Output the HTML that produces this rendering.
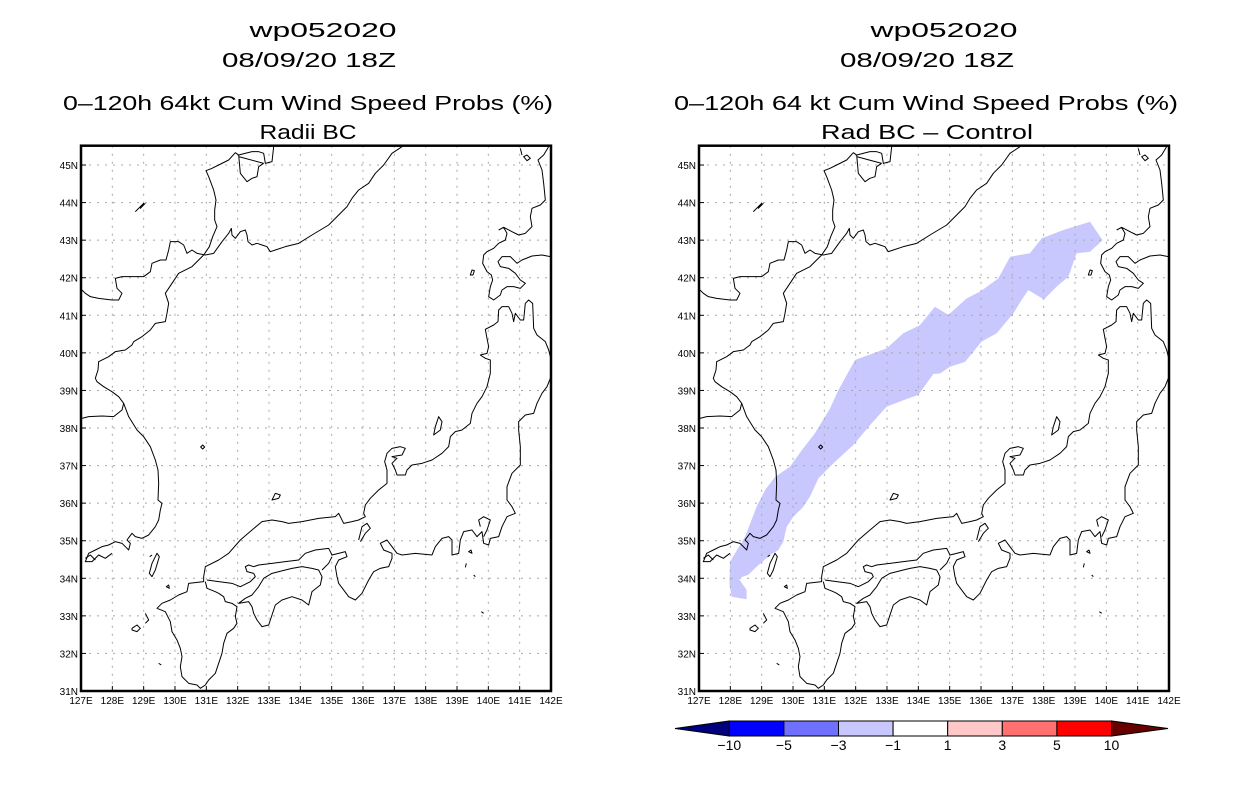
<!DOCTYPE html>
<html><head><meta charset="utf-8"><style>
html,body{margin:0;padding:0;background:#fff;}
svg{display:block;font-family:"Liberation Sans",sans-serif;}
</style></head><body>
<svg id="fig" width="1236" height="800" viewBox="0 0 1236 800" xmlns="http://www.w3.org/2000/svg">
<defs>
<g id="coast" fill="none" stroke="#000" stroke-width="3" stroke-linejoin="round">
<path d="M990,20 L960,40 935,75 910,100 890,130 860,150 840,175 825,200 800,225 770,255 720,285 680,310 640,320 610,330 595,335 585,320 570,315 555,310 540,315 528,305 525,285 520,270 505,275 490,295 480,285 478,265 470,280 450,305 425,340 400,345 375,340 360,330 345,340 335,315 320,305 295,305 290,330 282,360 265,360 240,370 235,395 215,410 175,410 150,410 130,415 135,445 150,460 140,480 120,480 80,475 55,470 40,460 30,450"/>
<path d="M605,20 L600,65 580,70 575,40 560,35 540,35 500,45 490,38 470,60 440,75 420,85 402,92 410,110 425,150 432,180 428,210 428,240 435,260 422,290 412,320 395,345"/>
<path d="M500,45 L505,100 525,125 540,115 555,110 560,80 575,70 M500,50 L575,70"/>
<path d="M395,345 L360,380 320,400 300,430 280,460 290,490 285,520 280,545 250,550 235,570 210,590 185,605 180,615 160,630 130,635 110,650 80,665 78,690 70,715 75,725 95,740 120,755 140,770 155,790 150,810 125,830 90,828 50,830 30,835"/>
<path d="M155,790 L170,830 195,870 215,890 235,920 250,960 258,990 260,1030 258,1080 270,1090 265,1110 260,1140 250,1160 230,1185 210,1195 190,1190 180,1180 165,1200 175,1210 170,1230 150,1210 130,1205 110,1215 90,1220 70,1230 50,1240 40,1265 60,1265 80,1245 100,1255 120,1240"/>
<path d="M190,215 L215,190 205,205 220,190 M255,1240 L262,1250 250,1290 240,1310 232,1300 240,1270 Z M386,921 L392,915 398,921 392,927 Z M600,1080 L610,1060 625,1065 620,1075 Z M1100,830 L1110,845 1105,870 1085,885 1090,860 Z M1195,405 L1200,390 1207,392 1203,405 Z"/>
<path d="M1280,270 L1295,262 1305,280 1300,300 1280,310 1265,325 1245,335 1235,345 1232,370 1245,395 1258,405 1262,420 1255,440 1250,470 1265,480 1285,465 1290,450 1305,440 1325,440 1345,445 1360,430 1345,420 1330,400 1310,385 1285,380 1278,365 1290,350 1315,350 1335,370 1350,360 1380,348 1410,345 1435,350"/>
<path d="M1295,262 L1320,275 1340,285 1360,280 1380,260 1375,230 1380,205 1405,195 1420,180 1415,130 1410,90 1398,60 1415,45 1430,20 M1355,50 L1365,45 1375,55 1365,62 Z M1345,25 L1350,45"/>
<path d="M1435,650 L1430,630 1420,605 1395,585 1385,565 1382,490 1370,480 1360,490 1355,540 1345,540 1330,520 1325,545 1320,520 1310,500 1290,500 1280,510 1278,545 1265,555 1240,568 1245,595 1250,620 1245,640 1225,645 1240,655 1255,660 1255,700 1245,740 1230,770 1215,790 1200,820 1195,850 1170,870 1150,875 1135,890 1130,920 1110,940 1080,960 1050,970 1020,975 1005,990 1000,1005 975,1005 970,990 960,970 975,955 960,950 990,945 1000,925 985,920 960,925 945,940 938,965 945,990 945,1030 920,1050 895,1075 880,1095 875,1120 880,1130 860,1140 840,1145 815,1150 805,1130 800,1120 790,1130 740,1135 690,1145 650,1150 630,1145 600,1140 570,1145 540,1170 505,1200 470,1240 440,1260 400,1280 395,1310 395,1325 350,1330 345,1355 320,1365 295,1380 270,1390 255,1405 280,1415 295,1445 300,1475 315,1500 325,1525 330,1550 325,1580 330,1610 350,1630 375,1635 385,1645 400,1635 410,1620 430,1600 440,1570 450,1540 455,1510 465,1480 485,1465 495,1450 490,1430 495,1400 480,1390 460,1385 455,1370 440,1360 430,1355 405,1345 400,1325"/>
<path d="M405,1320 L440,1325 480,1330 505,1340 535,1325 550,1310 545,1300 525,1295 520,1280 530,1275 545,1280 560,1275 600,1270 640,1265 680,1260 700,1240 730,1230 770,1225 780,1245 800,1240 820,1235 825,1250 800,1260 790,1280 795,1310 800,1330 830,1370 850,1380 870,1360 890,1320 905,1295 925,1285 950,1280 960,1255 960,1240 935,1230 925,1210 945,1200 960,1220 975,1240 990,1245 1030,1240 1080,1245 1090,1220 1110,1195 1130,1190 1140,1200 1140,1245 1160,1240 1165,1200 1175,1175 1200,1170 1215,1190 1230,1175 1235,1210 1250,1215 1255,1195 1280,1190 1290,1160 1305,1130 1330,1120 1320,1100 1305,1080 1305,1040 1320,1000 1345,975 1345,920 1340,870 1340,845 1360,825 1385,820 1395,790 1410,760 1425,740 1435,715"/>
<path d="M1225,1160 L1220,1140 1235,1130 1255,1140 1245,1170 1235,1190"/>
<path d="M500,1390 L520,1375 540,1365 560,1340 575,1315 600,1300 640,1290 660,1285 690,1280 720,1285 740,1290 750,1310 745,1335 720,1355 710,1395 690,1380 660,1370 630,1380 610,1395 590,1455 570,1460 555,1440 545,1420 540,1400 530,1385 Z"/>
<path d="M780,1250 L770,1270 750,1290 M180,1465 L195,1455 205,1465 195,1475 180,1470 Z M220,1420 L230,1440 220,1450 M1190,1235 L1197,1230 1200,1240 Z M1183,1270 L1180,1282 M1205,1305 L1210,1310 M1228,1415 L1235,1420 M283,1340 L290,1335 292,1345 Z M233,1250 L240,1245 M40,1255 L55,1245 70,1260 M260,1570 L268,1575"/>
<path d="M860,1200 L870,1160 885,1150 895,1165 880,1180 865,1205"/>
</g>
</defs>
<g id="titles" font-size="20" text-anchor="middle" fill="#000" lengthAdjust="spacingAndGlyphs">
<text x="323" y="37" textLength="147" lengthAdjust="spacingAndGlyphs">wp052020</text>
<text x="309" y="67" textLength="174" lengthAdjust="spacingAndGlyphs">08/09/20 18Z</text>
<text x="308" y="110" textLength="490" lengthAdjust="spacingAndGlyphs">0–120h 64kt Cum Wind Speed Probs (%)</text>
<text x="308" y="139" textLength="97" lengthAdjust="spacingAndGlyphs">Radii BC</text>
<text x="944" y="37" textLength="147" lengthAdjust="spacingAndGlyphs">wp052020</text>
<text x="927" y="67" textLength="174" lengthAdjust="spacingAndGlyphs">08/09/20 18Z</text>
<text x="926" y="110" textLength="504" lengthAdjust="spacingAndGlyphs">0–120h 64 kt Cum Wind Speed Probs (%)</text>
<text x="927" y="139" textLength="212" lengthAdjust="spacingAndGlyphs">Rad BC – Control</text>
</g>
<g id="panels"></g>
<g id="colorbar"></g>
</svg>
<script>
// probability-difference contour (-3 to -1 band), lon/lat vertices
const bandLon = [139.48,139.88,139.48,139.05,138.79,138.41,138.01,137.51,137.30,137.03,136.50,136.02,135.49,135.01,134.69,134.48,134.00,133.52,132.99,132.46,131.93,131.34,130.81,130.54,130.33,130.01,129.80,129.69,129.53,129.27,128.84,128.57,128.26,128.52,128.52,128.04,127.97,127.99,128.47,128.84,129.11,129.43,129.90,130.28,130.70,131.18,131.45,131.98,132.99,133.52,134.05,134.53,134.96,135.54,135.97,136.55,136.93,137.56,137.94,138.63];
const bandLat = [43.49,43.00,42.69,42.65,42.03,41.76,41.42,41.67,41.41,41.05,40.52,40.30,39.76,39.63,39.45,39.44,38.88,38.74,38.57,38.08,37.55,37.10,36.66,36.17,35.90,35.64,35.37,34.97,34.75,34.62,34.31,34.09,34.00,33.69,33.44,33.51,33.86,34.44,35.11,35.91,36.35,36.70,36.97,37.41,37.86,38.52,39.01,39.81,40.12,40.52,40.74,41.23,41.01,41.45,41.63,41.98,42.56,42.65,43.05,43.27];
const lonTicks = [127,128,129,130,131,132,133,134,135,136,137,138,139,140,141,142];
const latTicks = [31,32,33,34,35,36,37,38,39,40,41,42,43,44,45];
const cbLevels = ["-10","-5","-3","-1","1","3","5","10"];
const cbColors = ["#0000ff","#7070ff","#c8c8ff","#ffffff","#ffc8c8","#ff7070","#ff0000"];

const NS='http://www.w3.org/2000/svg';
function mk(tag, attrs, parent){const e=document.createElementNS(NS,tag);for(const k in attrs)e.setAttribute(k,attrs[k]);if(parent)parent.appendChild(e);return e;}
const panels=document.getElementById('panels');
const LON0=127,LON1=142,LAT0=31,LAT1=45.5;
function drawPanel(x0, name, showBand){
  const x1=x0+470, yTop=145.7, y31=691, pxLat=37.57;
  const xS=lon=>x0+(lon-LON0)*(x1-x0)/(LON1-LON0);
  const yS=lat=>y31-(lat-LAT0)*pxLat;
  const g=mk('g',{},panels);
  
  
  if(showBand){
    const pts=bandLon.map((lo,i)=>xS(lo).toFixed(1)+','+yS(bandLat[i]).toFixed(1)).join(' ');
    const p=mk('polygon',{points:pts,fill:'#c8c8ff',stroke:'none'},g);
    
    
  }
  const grid=mk('g',{stroke:'#a8a8a8','stroke-width':1,'stroke-dasharray':'2,6'},g);
  
  
  lonTicks.slice(1,-1).forEach(lo=>mk('line',{x1:xS(lo),x2:xS(lo),y1:yTop,y2:y31},grid));
  latTicks.slice(1).forEach(la=>mk('line',{x1:x0,x2:x1,y1:yS(la),y2:yS(la)},grid));
  const c=mk('use',{href:'#coast',transform:`translate(${x0-9},140) scale(0.33333)`},g);
  
  
  const f=mk('rect',{x:x0,y:yTop,width:x1-x0,height:y31-yTop,fill:'none',stroke:'#000','stroke-width':2.5},g);
  
  
  const ax=mk('g',{'font-size':10,fill:'#000'},g);
  
  
  lonTicks.forEach(lo=>{
    mk('line',{x1:xS(lo),x2:xS(lo),y1:y31,y2:y31-5,stroke:'#000'},ax);
    const t=mk('text',{x:xS(lo),y:y31+13,'text-anchor':'middle'},ax);t.textContent=lo+'E';
    
    
  });
  latTicks.forEach(la=>{
    mk('line',{x1:x0,x2:x0+5,y1:yS(la),y2:yS(la),stroke:'#000'},ax);
    const t=mk('text',{x:x0-3,y:yS(la)+4,'text-anchor':'end'},ax);t.textContent=la+'N';
    
    
  });
}
drawPanel(81,'left-map-panel',false);
drawPanel(699,'right-map-panel',true);

// colorbar
const cb=document.getElementById('colorbar');


const cbX0=729.3, cbX1=1111.5, cbY0=721, cbY1=736;
const bw=(cbX1-cbX0)/cbColors.length;
const lt=mk('polygon',{points:`675,${(cbY0+cbY1)/2} ${cbX0},${cbY0} ${cbX0},${cbY1}`,fill:'#00007f',stroke:'#000'},cb);


const rt=mk('polygon',{points:`1168,${(cbY0+cbY1)/2} ${cbX1},${cbY0} ${cbX1},${cbY1}`,fill:'#680000',stroke:'#000'},cb);


cbColors.forEach((col,i)=>{
  const r=mk('rect',{x:cbX0+i*bw,y:cbY0,width:bw,height:cbY1-cbY0,fill:col,stroke:'#000','stroke-width':1},cb);
  
  
});
cbLevels.forEach((lv,i)=>{
  const t=mk('text',{x:cbX0+i*bw,y:cbY1+14,'text-anchor':'middle','font-size':14},cb);
  t.textContent=lv.replace('-','−');
  
  
});
</script>
</body></html>
